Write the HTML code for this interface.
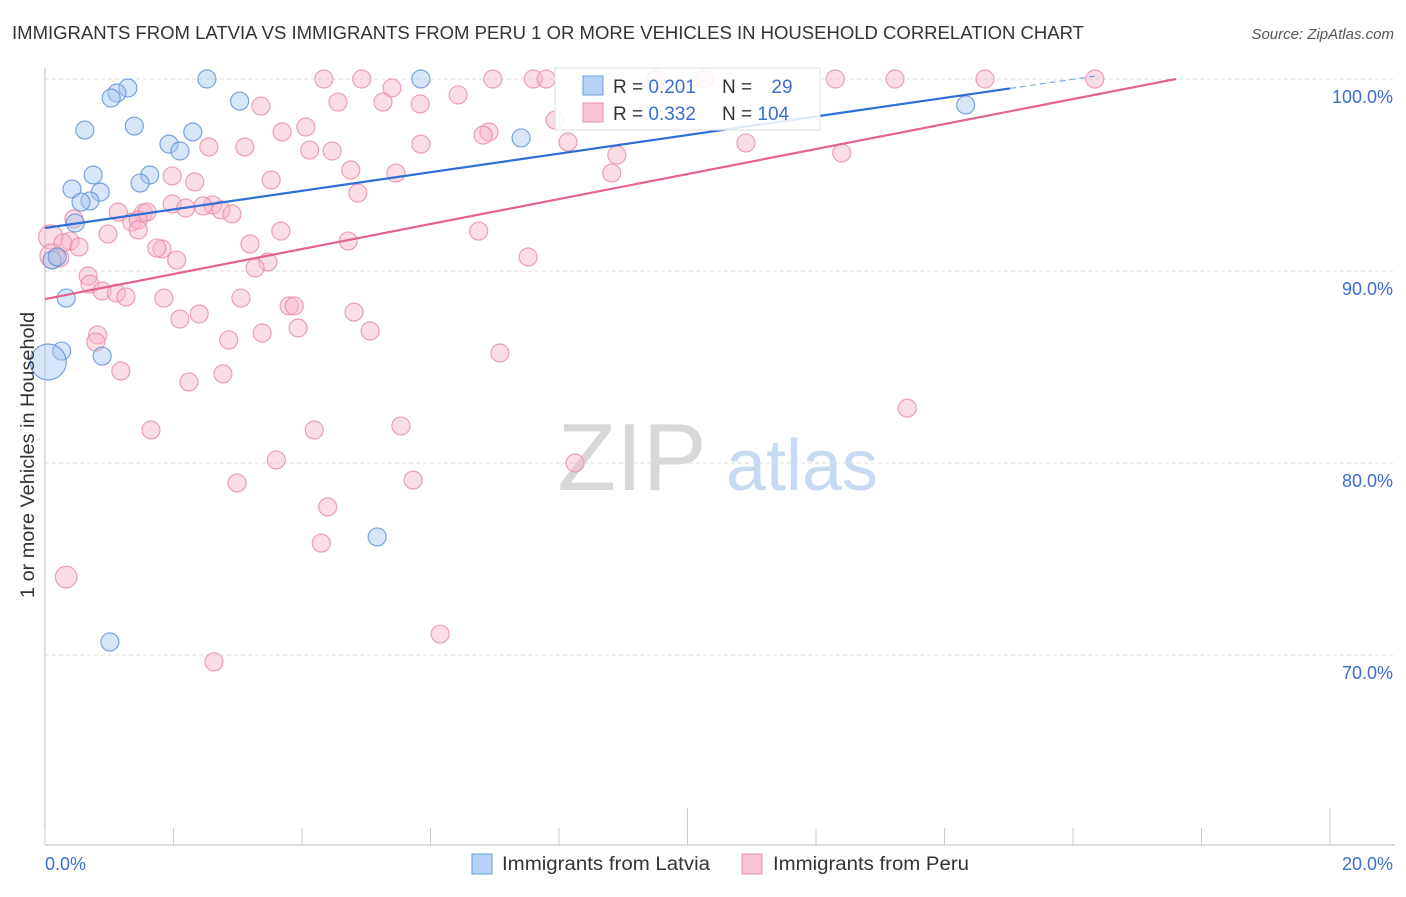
<!DOCTYPE html>
<html><head><meta charset="utf-8"><style>
body{margin:0;background:#fff;font-family:"Liberation Sans",sans-serif;}
svg text{font-family:"Liberation Sans",sans-serif;}
</style></head><body>
<svg width="1406" height="892" xmlns="http://www.w3.org/2000/svg">
<text x="12" y="39" font-size="18" fill="#333" textLength="1072" lengthAdjust="spacingAndGlyphs">IMMIGRANTS FROM LATVIA VS IMMIGRANTS FROM PERU 1 OR MORE VEHICLES IN HOUSEHOLD CORRELATION CHART</text>
<text x="1394" y="39" font-size="15" fill="#555" font-style="italic" text-anchor="end">Source: ZipAtlas.com</text>
<g>
<text x="632" y="490" font-size="96" fill="#d8d8d8" text-anchor="middle" font-family="Liberation Serif">ZIP</text>
<text x="802" y="490" font-size="72" fill="#c8daf2" text-anchor="middle">atlas</text>
</g>
<g id="grid"></g><g id="axes"></g><g id="pts"></g><g id="trend"></g>
<text x="0" y="0" transform="translate(34,455) rotate(-90)" font-size="19" fill="#333" text-anchor="middle" textLength="286" lengthAdjust="spacingAndGlyphs">1 or more Vehicles in Household</text>
<g>
<rect x="555" y="68" width="265" height="62" fill="#fff" fill-opacity="0.85" stroke="#ddd"/>
<rect x="583" y="76" width="20" height="19" fill="#b8d3f5" stroke="#6a9ee0"/>
<rect x="583" y="103" width="20" height="19" fill="#f9c5d5" stroke="#eb92ae"/>
<text x="613" y="93" font-size="19" fill="#333">R = <tspan fill="#3a6fd0">0.201</tspan></text>
<text x="722" y="93" font-size="19" fill="#333">N = <tspan fill="#3a6fd0" dx="14">29</tspan></text>
<text x="613" y="120" font-size="19" fill="#333">R = <tspan fill="#3a6fd0">0.332</tspan></text>
<text x="722" y="120" font-size="19" fill="#333">N = <tspan fill="#3a6fd0">104</tspan></text>
</g>
<g>
<rect x="472" y="854" width="20" height="20" fill="#b8d3f5" stroke="#6a9ee0"/>
<text x="502" y="870" font-size="19" fill="#333" textLength="208" lengthAdjust="spacingAndGlyphs">Immigrants from Latvia</text>
<rect x="742" y="854" width="20" height="20" fill="#f9c5d5" stroke="#eb92ae"/>
<text x="773" y="870" font-size="19" fill="#333" textLength="196" lengthAdjust="spacingAndGlyphs">Immigrants from Peru</text>
</g>
</svg>
<script>
const xTicks=[0,2,4,6,8,10,12,14,16,18,20];
const yTicks=[100,90,80,70];
const yTickLabels=["100.0%","90.0%","80.0%","70.0%"];
const xEndLabels=["0.0%","20.0%"];
const latviaX=[2.52,5.85,1.29,1.12,1.03,3.03,1.39,0.62,2.30,1.93,2.10,7.41,0.75,1.63,1.48,0.42,0.86,0.70,0.56,0.47,0.11,0.19,0.33,0.26,0.89,0.05,14.33,5.17,1.01];
const latviaY=[100,100,99.53,99.27,99.01,98.85,97.55,97.34,97.24,96.61,96.25,96.93,95.0,95.0,94.58,94.27,94.11,93.65,93.59,92.5,90.57,90.73,88.59,85.83,85.57,85.26,98.65,76.15,70.68];
const latviaSize=[1,1,1,1,1,1,1,1,1,1,1,1,1,1,1,1,1,1,1,1,1,1,1,1,1,2,1,1,1];
const peruX=[4.34,4.93,6.97,7.60,7.80,9.51,10.26,12.30,13.23,14.63,16.34,5.40,6.43,4.56,5.26,3.36,5.84,7.94,6.91,6.82,3.69,4.06,8.14,5.85,2.55,3.11,4.12,4.47,10.91,8.90,12.40,4.76,5.46,8.82,1.98,2.33,3.52,4.87,1.98,2.19,2.61,2.46,2.74,2.91,1.14,1.53,1.59,1.35,1.45,1.45,0.98,0.45,0.09,3.67,6.75,4.72,0.39,0.53,1.82,1.74,3.19,2.05,7.52,3.47,3.27,0.11,0.23,0.28,0.67,0.70,0.89,1.11,1.26,1.85,3.05,3.80,3.88,4.81,2.10,2.40,3.94,5.06,0.82,0.79,3.38,2.86,7.08,1.18,2.77,2.24,13.42,1.65,4.19,5.54,3.60,8.25,2.99,5.73,4.40,4.30,0.33,6.15,2.63];
const peruY=[100,100,100,100,100,100,100,100,100,100,100,99.53,99.17,98.80,98.80,98.59,98.70,97.86,97.24,97.08,97.24,97.50,96.72,96.61,96.46,96.46,96.30,96.25,96.67,96.04,96.15,95.26,95.10,95.10,94.95,94.64,94.74,94.06,93.49,93.28,93.44,93.39,93.18,92.97,93.07,93.02,93.07,92.55,92.66,92.14,91.93,92.71,91.77,92.08,92.08,91.56,91.56,91.25,91.15,91.20,91.41,90.57,90.73,90.47,90.16,90.78,90.68,91.46,89.74,89.32,88.96,88.85,88.65,88.59,88.59,88.18,88.18,87.86,87.50,87.76,87.03,86.88,86.67,86.30,86.77,86.41,85.73,84.79,84.64,84.22,82.86,81.72,81.72,81.93,80.16,80.0,78.96,79.11,77.71,75.83,74.06,71.09,69.64];
const peruSize=[1,1,1,1,1,1,1,1,1,1,1,1,1,1,1,1,1,1,1,1,1,1,1,1,1,1,1,1,1,1,1,1,1,1,1,1,1,1,1,1,1,1,1,1,1,1,1,1,1,1,1,1,1.35,1,1,1,1,1,1,1,1,1,1,1,1,1.35,1,1,1,1,1,1,1,1,1,1,1,1,1,1,1,1,1,1,1,1,1,1,1,1,1,1,1,1,1,1,1,1,1,1,1.2,1,1];
const latviaTrend=[92.24,0.484];
const peruTrend=[88.54,0.651];
const NS="http://www.w3.org/2000/svg";
const X0=45,X1=1330,Y100=79,PXPER=19.2;
function sx(v){return X0+(X1-X0)*v/20;}
function sy(v){return Y100+(100-v)*PXPER;}
function mk(tag,attrs,parent){const e=document.createElementNS(NS,tag);for(const k in attrs)e.setAttribute(k,attrs[k]);document.getElementById(parent).appendChild(e);return e;}
yTicks.forEach((t,i)=>{
 const l=mk('line',{x1:X0,x2:1395,y1:sy(t),y2:sy(t),stroke:'#ddd','stroke-dasharray':'4,3'},'grid');
 
 
 const tx=mk('text',{x:1393,y:sy(t)+24,'font-size':18,fill:'#3a6fd0','text-anchor':'end'},'grid');
 tx.textContent=yTickLabels[i];
 
 
});
const ax=mk('line',{x1:X0,x2:X0,y1:68,y2:845,stroke:'#bbb'},'axes');


const bx=mk('line',{x1:X0,x2:1395,y1:845,y2:845,stroke:'#bbb'},'axes');


xTicks.forEach((t,i)=>{
 const long=(t===10||t===20);
 const l=mk('line',{x1:sx(t),x2:sx(t),y1:long?808:828,y2:845,stroke:'#ccc'},'axes');
 
 
});
[[0,'start'],[20,'end']].forEach((p,i)=>{
 const tx=mk('text',{x:i?1393:45,y:870,'font-size':18,fill:'#3a6fd0','text-anchor':p[1]},'axes');
 tx.textContent=xEndLabels[i];
 
 
});
function drawPts(xs,ys,sz,fill,stroke,name){
 xs.forEach((x,i)=>{
  const c=mk('circle',{cx:sx(x),cy:sy(ys[i]),r:9*sz[i],fill:fill,'fill-opacity':0.45,stroke:stroke,'stroke-opacity':0.8,'stroke-width':1.2},'pts');
  
  
 });
}
drawPts(peruX,peruY,peruSize,'#f6b3c8','#e88aa8','peru-point');
drawPts(latviaX,latviaY,latviaSize,'#a7c7f0','#5b8ed8','latvia-point');
const bEnd=15.02;
let l1=mk('line',{x1:sx(0),y1:sy(latviaTrend[0]),x2:sx(bEnd),y2:sy(latviaTrend[0]+latviaTrend[1]*bEnd),stroke:'#2f6fd6','stroke-width':2.2},'trend');


const bEnd2=16.34;
let l2=mk('line',{x1:sx(bEnd),y1:sy(latviaTrend[0]+latviaTrend[1]*bEnd),x2:sx(bEnd2),y2:sy(latviaTrend[0]+latviaTrend[1]*bEnd2),stroke:'#2f6fd6','stroke-width':1.2,'stroke-dasharray':'6,4','stroke-opacity':0.6},'trend');


const pEnd=(100-peruTrend[0])/peruTrend[1];
let l3=mk('line',{x1:sx(0),y1:sy(peruTrend[0]),x2:sx(pEnd),y2:sy(100),stroke:'#e4628e','stroke-width':2.2},'trend');


</script>
</body></html>
